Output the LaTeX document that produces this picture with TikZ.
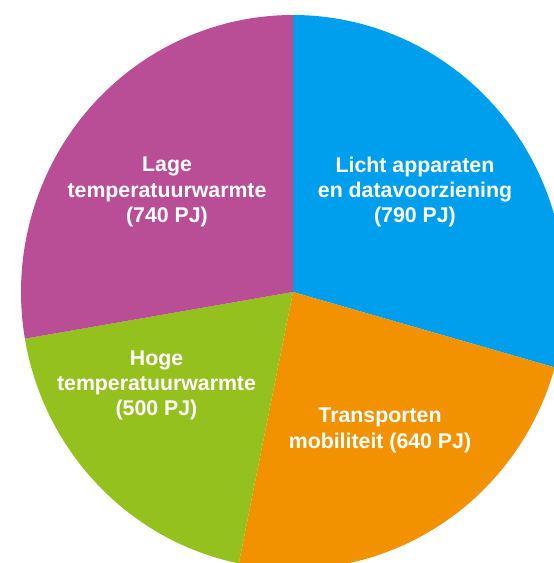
\documentclass[tikz,border=0pt]{standalone}
\usepackage{fontspec}
\setmainfont{Liberation Sans}
\usepackage{tikz}
\usepackage{xcolor}
\definecolor{licht}{HTML}{009FEE}
\definecolor{transport}{HTML}{F39200}
\definecolor{hoog}{HTML}{95C11F}
\definecolor{laag}{HTML}{B94E96}
\begin{document}
\begin{tikzpicture}[x=1pt,y=1pt,lbl/.style={text=white,align=center,inner sep=0pt,font=\fontsize{21.3}{25.3}\selectfont\bfseries}]
\useasboundingbox (0,0) rectangle (554,563);
\clip (0,0) rectangle (554,563);
\coordinate (C) at (293,271);
% pie slices
\fill[licht] (C) -- ++(90:272 and 277) arc[start angle=90,end angle=-15.8,x radius=272,y radius=277] -- cycle;
\fill[transport] (C) -- ++(-15.8:272 and 277) arc[start angle=-15.8,end angle=-101.5,x radius=272,y radius=277] -- cycle;
\fill[hoog] (C) -- ++(-101.5:272 and 277) arc[start angle=-101.5,end angle=-170.3,x radius=272,y radius=277] -- cycle;
\fill[laag] (C) -- ++(-170.3:272 and 277) arc[start angle=-170.3,end angle=-270,x radius=272,y radius=277] -- cycle;
% labels
\node[lbl] (lichtlbl) at (415,371) {Licht apparaten\\en datavoorziening\\(790 PJ)};
\node[lbl] (transportlbl) at (380,132.5) {Transporten\\mobiliteit (640 PJ)};
\node[lbl] (hooglbl) at (156.5,177.5) {Hoge\\temperatuurwarmte\\(500 PJ)};
\node[lbl] (laaglbl) at (167,371) {Lage\\temperatuurwarmte\\(740 PJ)};
\end{tikzpicture}
\end{document}
